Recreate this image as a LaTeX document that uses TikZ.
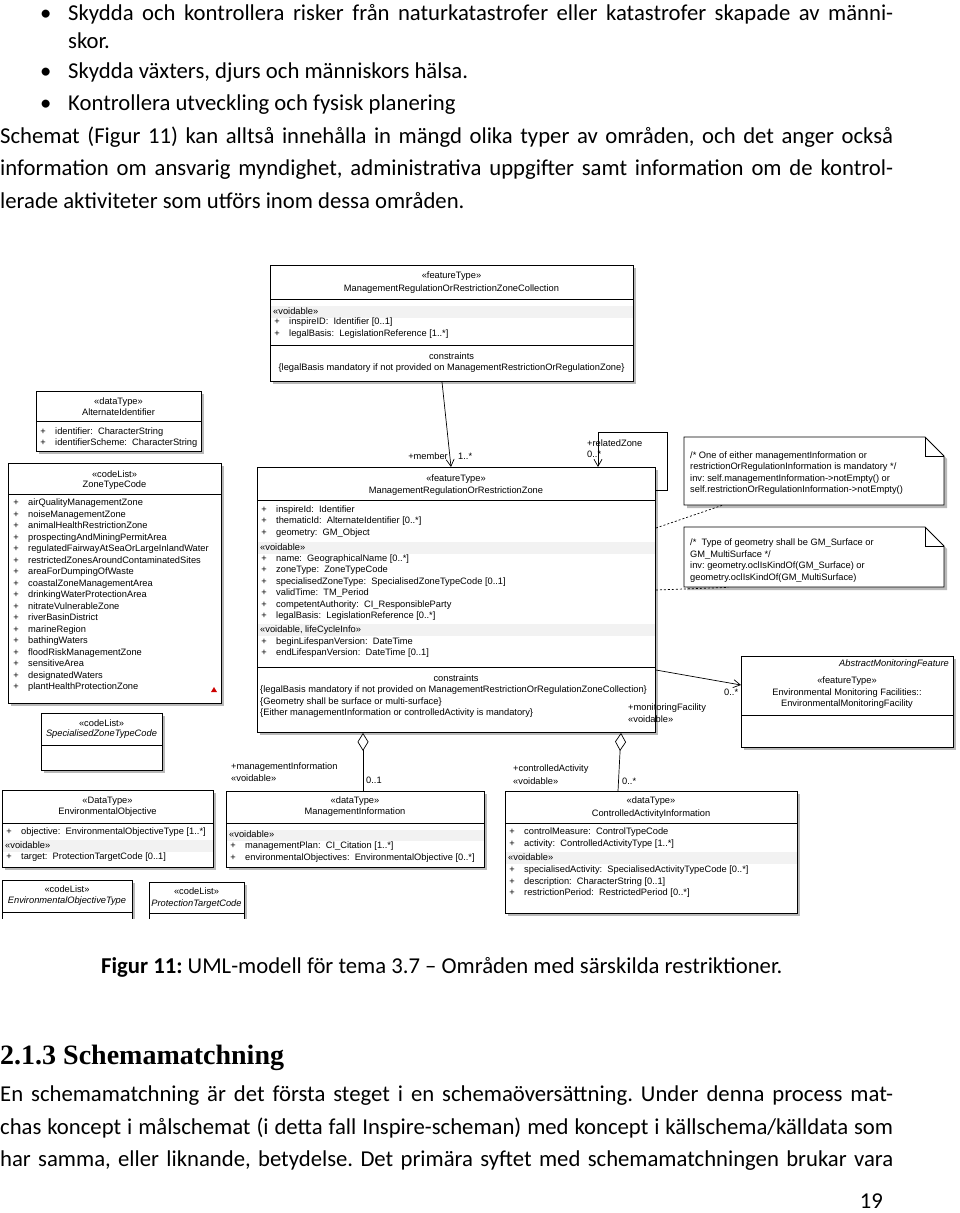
\documentclass[tikz,border=0pt]{standalone}
\usepackage{fontspec}
\setmainfont{Carlito}
\newfontfamily\umlsans{Liberation Sans}
\newfontfamily\headserif{Liberation Serif}
\usetikzlibrary{arrows.meta,shadows}
\frenchspacing

\newcommand\bodyfont{\fontsize{22.7}{26}\selectfont}
\newcommand\umlfont{\umlsans\fontsize{9.3}{10.5}\selectfont}
% a box from its corners, in pixels
\newcommand\umlbox[5]{\node[umlbox, anchor=north west, minimum width={(#4-#2)*1pt}, minimum height={(#5-#3)*1pt}] (#1) at (#2,#3) {};}
% compartment line and grey stereotype band
\newcommand\sepline[2]{\draw[line width=0.8pt] (#1.west |- 0,#2) -- (#1.east |- 0,#2);}
\newcommand\band[3]{\fill[gray!10] ([xshift=0.6pt]#1.west |- 0,#2) rectangle ([xshift=-0.6pt]#1.east |- 0,#3);}
% attribute rows: prefix, box left, first row, list
\newcommand\attrs[4]{\foreach \t [count=\i] in {#4} {
  \node[utxt] (#1\i) at (#2+19,{#3+(\i-1)*11.5}) {\t};
  \node[uctr] (#1p\i) at (#2+7,{#3+(\i-1)*11.5}) {+};}}
\newcommand\notepath[4]{(#1,#2) -- (#3-19,#2) -- (#3,#2+19) -- (#3,#4) -- (#1,#4) -- cycle}

\begin{document}
\begin{tikzpicture}[x=1pt,y=-1pt,
  body/.style={anchor=mid west, inner sep=0pt, font=\bodyfont},
  umlbox/.style={draw, fill=white, line width=0.9pt, inner sep=0pt,
    drop shadow={shadow xshift=3pt, shadow yshift=-3pt, fill=gray!55, opacity=1}},
  utxt/.style={anchor=mid west, inner sep=0pt, font=\umlfont},
  uctr/.style={anchor=mid, inner sep=0pt, font=\umlfont},
  assoc/.style={-{Straight Barb[length=7pt,width=8pt]}, line width=0.7pt},
  aggr/.style={{Diamond[open,length=18pt,width=11pt]}-, line width=0.7pt}]
\useasboundingbox (0,0) rectangle (960,1213);

% running text above the figure
\node[body] (bulA) at (40,18) {\textbullet};
\node[body] (lineA) at (68,18) {\makebox[825pt][s]{Skydda och kontrollera risker från naturkatastrofer eller katastrofer skapade av männi-}};
\node[body] (lineB) at (68,46) {skor.};
\node[body] (bulB) at (40,76) {\textbullet};
\node[body] (lineC) at (68,76) {Skydda växters, djurs och människors hälsa.};
\node[body] (bulC) at (40,108) {\textbullet};
\node[body] (lineD) at (68,108) {Kontrollera utveckling och fysisk planering};
\node[body] (lineE) at (0,141) {\makebox[893pt][s]{Schemat (Figur 11) kan alltså innehålla in mängd olika typer av områden, och det anger också}};
\node[body] (lineF) at (0,173) {\makebox[893pt][s]{information om ansvarig myndighet, administrativa uppgifter samt information om de kontrol-}};
\node[body] (lineG) at (0,206) {lerade aktiviteter som utförs inom dessa områden.};

% collection
\umlbox{coll}{270}{265}{633}{381}
\sepline{coll}{299}
\band{coll}{306}{318}
\sepline{coll}{345}
\node[uctr] (collSt) at (451.5,276) {«featureType»};
\node[uctr] (collNm) at (451.5,289) {ManagementRegulationOrRestrictionZoneCollection};
\node[utxt] (collVd) at (273,312) {«voidable»};
\attrs{collA}{270}{322.5}{{inspireID:\ \ Identifier [0..1]},{legalBasis:\ \ LegislationReference [1..*]}}
\node[uctr] (collCs) at (451.5,357) {constraints};
\node[uctr] (collC) at (451.5,368.5) {\{legalBasis mandatory if not provided on ManagementRestrictionOrRegulationZone\}};

% alternate identifier
\umlbox{altId}{36}{391}{201}{451}
\sepline{altId}{421}
\node[uctr] (altSt) at (118.5,402) {«dataType»};
\node[uctr] (altNm) at (118.5,413) {AlternateIdentifier};
\attrs{altA}{36}{432}{{identifier:\ \ CharacterString},{identifierScheme:\ \ CharacterString}}

% zone type code list
\umlbox{zoneType}{8}{463}{221}{703}
\sepline{zoneType}{494}
\node[uctr] (ztSt) at (114.5,475) {«codeList»};
\node[uctr] (ztNm) at (114.5,485.5) {ZoneTypeCode};
\attrs{ztA}{9}{503.5}{airQualityManagementZone,noiseManagementZone,animalHealthRestrictionZone,prospectingAndMiningPermitArea,regulatedFairwayAtSeaOrLargeInlandWater,restrictedZonesAroundContaminatedSites,areaForDumpingOfWaste,coastalZoneManagementArea,drinkingWaterProtectionArea,nitrateVulnerableZone,riverBasinDistrict,marineRegion,bathingWaters,floodRiskManagementZone,sensitiveArea,designatedWaters,plantHealthProtectionZone}
\fill[red!80!black] (211,692) -- (214,687) -- (217,692) -- cycle;

% the zone
\umlbox{zone}{257}{467}{655}{732}
\sepline{zone}{500}
\band{zone}{542}{554}
\band{zone}{624}{636}
\sepline{zone}{667}
\node[uctr] (zoneSt) at (456,479) {«featureType»};
\node[uctr] (zoneNm) at (456,491) {ManagementRegulationOrRestrictionZone};
\attrs{zoneA}{257}{510}{{inspireId:\ \ Identifier},{thematicId:\ \ AlternateIdentifier [0..*]},{geometry:\ \ GM\_Object}}
\node[utxt] (zoneVd) at (260,548) {«voidable»};
\attrs{zoneB}{257}{559}{{name:\ \ GeographicalName [0..*]},{zoneType:\ \ ZoneTypeCode},{specialisedZoneType:\ \ SpecialisedZoneTypeCode [0..1]},{validTime:\ \ TM\_Period},{competentAuthority:\ \ CI\_ResponsibleParty},{legalBasis:\ \ LegislationReference [0..*]}}
\node[utxt] (zoneLc) at (260,630) {«voidable, lifeCycleInfo»};
\attrs{zoneC}{257}{642}{{beginLifespanVersion:\ \ DateTime},{endLifespanVersion:\ \ DateTime [0..1]}}
\node[uctr] (zoneCs) at (456,679) {constraints};
\node[utxt] (zoneC1) at (260,690.5) {\{legalBasis mandatory if not provided on ManagementRestrictionOrRegulationZoneCollection\}};
\node[utxt] (zoneC2) at (260,702) {\{Geometry shall be surface or multi-surface\}};
\node[utxt] (zoneC3) at (260,713.5) {\{Either managementInformation or controlledActivity is mandatory\}};

% notes
\fill[gray!55, shift={(3,3)}] \notepath{684}{437}{944}{505};
\draw[fill=white, line width=0.8pt] \notepath{684}{437}{944}{505};
\draw[line width=0.8pt] (925,437) -- (925,456) -- (944,456);
\node[anchor=north west, minimum width=260pt, minimum height=68pt, inner sep=0pt] (noteOne) at (684,437) {};
\node[utxt] (noteOneA) at (690,456) {/* One of either managementInformation or};
\node[utxt] (noteOneB) at (690,467.5) {restrictionOrRegulationInformation is mandatory */};
\node[utxt] (noteOneC) at (690,479) {inv: self.managementInformation->notEmpty() or};
\node[utxt] (noteOneD) at (690,490.5) {self.restrictionOrRegulationInformation->notEmpty()};

\fill[gray!55, shift={(3,3)}] \notepath{684}{527}{944}{587};
\draw[fill=white, line width=0.8pt] \notepath{684}{527}{944}{587};
\draw[line width=0.8pt] (925,527) -- (925,546) -- (944,546);
\node[anchor=north west, minimum width=260pt, minimum height=60pt, inner sep=0pt] (noteTwo) at (684,527) {};
\node[utxt] (noteTwoA) at (690,543.5) {/*\ \ Type of geometry shall be GM\_Surface or};
\node[utxt] (noteTwoB) at (690,555) {GM\_MultiSurface */};
\node[utxt] (noteTwoC) at (690,566.5) {inv: geometry.oclIsKindOf(GM\_Surface) or};
\node[utxt] (noteTwoD) at (690,578) {geometry.oclIsKindOf(GM\_MultiSurface)};

\draw[line width=0.7pt, dash pattern=on 2pt off 2pt] (zone.east |- 0,528) -- ([xshift=38pt]noteOne.south west);
\draw[line width=0.7pt, dash pattern=on 2pt off 2pt] (zone.east |- 0,590) -- ([xshift=44pt]noteTwo.south west);

% monitoring facility
\umlbox{monFac}{741}{656}{953}{747}
\sepline{monFac}{715}
\node[utxt, anchor=mid east] (monAb) at (949,664) {\itshape AbstractMonitoringFeature};
\node[uctr] (monSt) at (847,681) {«featureType»};
\node[uctr] (monNm) at (847,693) {Environmental Monitoring Facilities::};
\node[uctr] (monNmB) at (847,704) {EnvironmentalMonitoringFacility};

% specialised zone type code
\umlbox{specCode}{41}{713}{162}{770}
\sepline{specCode}{745}
\node[uctr] (specSt) at (101.5,724) {«codeList»};
\node[uctr] (specNm) at (101.5,734.5) {\itshape SpecialisedZoneTypeCode};

% environmental objective
\umlbox{envObj}{2}{790}{213}{867}
\sepline{envObj}{823}
\band{envObj}{840}{852}
\node[uctr] (envSt) at (107.5,801) {«DataType»};
\node[uctr] (envNm) at (107.5,812.5) {EnvironmentalObjective};
\attrs{envA}{2}{832}{{objective:\ \ EnvironmentalObjectiveType [1..*]}}
\node[utxt] (envVd) at (5,846) {«voidable»};
\attrs{envB}{2}{857.5}{{target:\ \ ProtectionTargetCode [0..1]}}

% management information
\umlbox{mgmtInfo}{226}{791}{484}{867}
\sepline{mgmtInfo}{823}
\band{mgmtInfo}{830}{841}
\node[uctr] (mgmtSt) at (355,801) {«dataType»};
\node[uctr] (mgmtNm) at (355,812.5) {ManagementInformation};
\node[utxt] (mgmtVd) at (229,835.5) {«voidable»};
\attrs{mgmtA}{226}{846.5}{{managementPlan:\ \ CI\_Citation [1..*]},{environmentalObjectives:\ \ EnvironmentalObjective [0..*]}}

% controlled activity
\umlbox{ctrlAct}{505}{791}{797}{913}
\sepline{ctrlAct}{823}
\band{ctrlAct}{852}{864}
\node[uctr] (ctrlSt) at (651,801) {«dataType»};
\node[uctr] (ctrlNm) at (651,814) {ControlledActivityInformation};
\attrs{ctrlA}{505}{832.5}{{controlMeasure:\ \ ControlTypeCode},{activity:\ \ ControlledActivityType [1..*]}}
\node[utxt] (ctrlVd) at (508,858.5) {«voidable»};
\attrs{ctrlB}{505}{870.5}{{specialisedActivity:\ \ SpecialisedActivityTypeCode [0..*]},{description:\ \ CharacterString [0..1]},{restrictionPeriod:\ \ RestrictedPeriod [0..*]}}

% code lists cut by the figure edge
\begin{scope}
\clip (0,0) rectangle (960,918);
\umlbox{envObjType}{2}{880}{132}{935}
\sepline{envObjType}{912}
\node[uctr] (eotSt) at (67,890) {«codeList»};
\node[uctr] (eotNm) at (67,901) {\itshape EnvironmentalObjectiveType};
\umlbox{protCode}{149}{882}{244}{935}
\sepline{protCode}{913}
\node[uctr] (ptcSt) at (196.5,892) {«codeList»};
\node[uctr] (ptcNm) at (196.5,904) {\itshape ProtectionTargetCode};
\end{scope}

% associations
\draw[assoc] ([xshift=172pt]coll.south west) -- ([xshift=194pt]zone.north west);
\node[utxt, anchor=mid east] (memRole) at (448,457) {+member};
\node[utxt] (memMult) at (458,457) {1..*};
\draw[assoc] (zone.east |- 0,490) -| (667,432) -| ([xshift=341pt]zone.north west);
\node[utxt] (relRole) at (587,444) {+relatedZone};
\node[utxt] (relMult) at (587,455) {0..*};
\draw[assoc] (zone.east |- 0,670) -- (monFac.west |- 0,685);
\node[utxt] (monRole) at (628,708) {+monitoringFacility};
\node[utxt] (monVd) at (628,720) {«voidable»};
\node[utxt] (monMult) at (724,693) {0..*};
\draw[aggr] ([xshift=106pt]zone.south west) -- ([xshift=137pt]mgmtInfo.north west);
\node[utxt] (mgmtRole) at (231,767) {+managementInformation};
\node[utxt] (mgmtRoleVd) at (231,779) {«voidable»};
\node[utxt] (mgmtMult) at (366,781) {0..1};
\draw[aggr] ([xshift=364pt]zone.south west) -- ([xshift=113pt]ctrlAct.north west);
\node[utxt] (ctrlRole) at (513,769) {+controlledActivity};
\node[utxt] (ctrlRoleVd) at (513,782) {«voidable»};
\node[utxt] (ctrlMult) at (622,782) {0..*};

% caption and text below the figure
\node[body] (caption) at (101,971) {\textbf{Figur 11:} UML-modell för tema 3.7 – Områden med särskilda restriktioner.};
\node[body, font=\headserif\bfseries\fontsize{28}{32}\selectfont] (heading) at (0,1062) {2.1.3 Schemamatchning};
\node[body] (lineH) at (0,1099) {\makebox[893pt][s]{En schemamatchning är det första steget i en schemaöversättning. Under denna process mat-}};
\node[body] (lineI) at (0,1132) {\makebox[893pt][s]{chas koncept i målschemat (i detta fall Inspire-scheman) med koncept i källschema/källdata som}};
\node[body] (lineJ) at (0,1164) {\makebox[893pt][s]{har samma, eller liknande, betydelse. Det primära syftet med schemamatchningen brukar vara}};
\node[body, anchor=mid east] (pageNo) at (883,1206) {19};
\end{tikzpicture}
\end{document}
